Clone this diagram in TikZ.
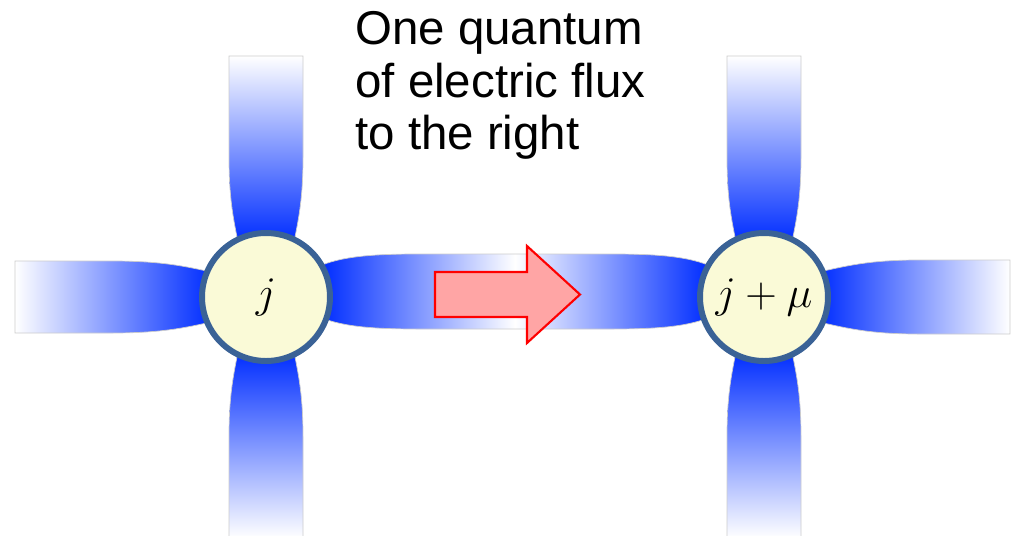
\documentclass[tikz,border=0pt]{standalone}
\usepackage[no-math]{fontspec}
\setmainfont{Liberation Sans}
\definecolor{fluxblue}{RGB}{0, 45, 255}
\definecolor{sitefill}{RGB}{250, 250, 215}
\definecolor{siteedge}{RGB}{58, 98, 150}
\definecolor{arrowpink}{RGB}{255, 165, 165}

\begin{document}
\begin{tikzpicture}[
  x=0.02cm, y=-0.02cm,
  site/.style={circle, fill=sitefill, draw=siteedge, line width=3.4pt, minimum size=2.56cm, inner sep=0pt, font=\Huge},
  tube/.style={draw=black!20, line width=0.4pt},
]
\useasboundingbox (0,0) rectangle (1012,535);

% Flux tubes around site j
\begin{scope}[shift={(266,297)}]
\shade[tube, left color=white, right color=fluxblue] (-251,-36) -- (-155,-36) .. controls (-105,-36) and (-82,-31) .. (-55,-25) -- (-55,25) .. controls (-82,31) and (-105,36) .. (-155,36) -- (-251,36) -- cycle;
\shade[tube, top color=white, bottom color=fluxblue] (-37,-241) -- (-37,-140) .. controls (-37,-100) and (-33,-80) .. (-28,-55) -- (28,-55) .. controls (33,-80) and (37,-100) .. (37,-140) -- (37,-241) -- cycle;
\shade[tube, top color=fluxblue, bottom color=white] (-28,55) .. controls (-33,80) and (-37,100) .. (-37,140) -- (-37,241) -- (37,241) -- (37,140) .. controls (37,100) and (33,80) .. (28,55) -- cycle;
\end{scope}

% Flux tubes around site j+mu
\begin{scope}[shift={(764,297)}]
\shade[tube, left color=fluxblue, right color=white] (55,-25) .. controls (82,-31) and (105,-37) .. (155,-37) -- (246,-37) -- (246,37) -- (155,37) .. controls (105,37) and (82,31) .. (55,25) -- cycle;
\shade[tube, top color=white, bottom color=fluxblue] (-37,-241) -- (-37,-140) .. controls (-37,-100) and (-33,-80) .. (-28,-55) -- (28,-55) .. controls (33,-80) and (37,-100) .. (37,-140) -- (37,-241) -- cycle;
\shade[tube, top color=fluxblue, bottom color=white] (-28,55) .. controls (-33,80) and (-37,100) .. (-37,140) -- (-37,241) -- (37,241) -- (37,140) .. controls (37,100) and (33,80) .. (28,55) -- cycle;
\end{scope}

% Link between the two sites
\shade[tube, left color=fluxblue, right color=fluxblue, middle color=white] (322,265) .. controls (345,256) and (375,254) .. (420,254) -- (610,254) .. controls (655,254) and (685,256) .. (708,265) -- (708,318) .. controls (685,327) and (655,329) .. (610,329) -- (420,329) .. controls (375,329) and (345,327) .. (322,318) -- cycle;

% Sites
\node[site] (j) at (266,297) {$j$};
\node[site] (jmu) at (764,297) {$j+\mu$};

% Flux arrow and caption
\draw[draw=red, fill=arrowpink, line width=1.2pt, line join=miter] (435,272) -- (527,272) -- (527,246) -- (580,294.5) -- (527,343) -- (527,317) -- (435,317) -- cycle;
\node[font=\fontsize{27}{30}\selectfont, align=left, anchor=north west, inner sep=0pt] (caption) at (355,11) {One quantum\\of electric flux\\to the right};
\end{tikzpicture}
\end{document}
